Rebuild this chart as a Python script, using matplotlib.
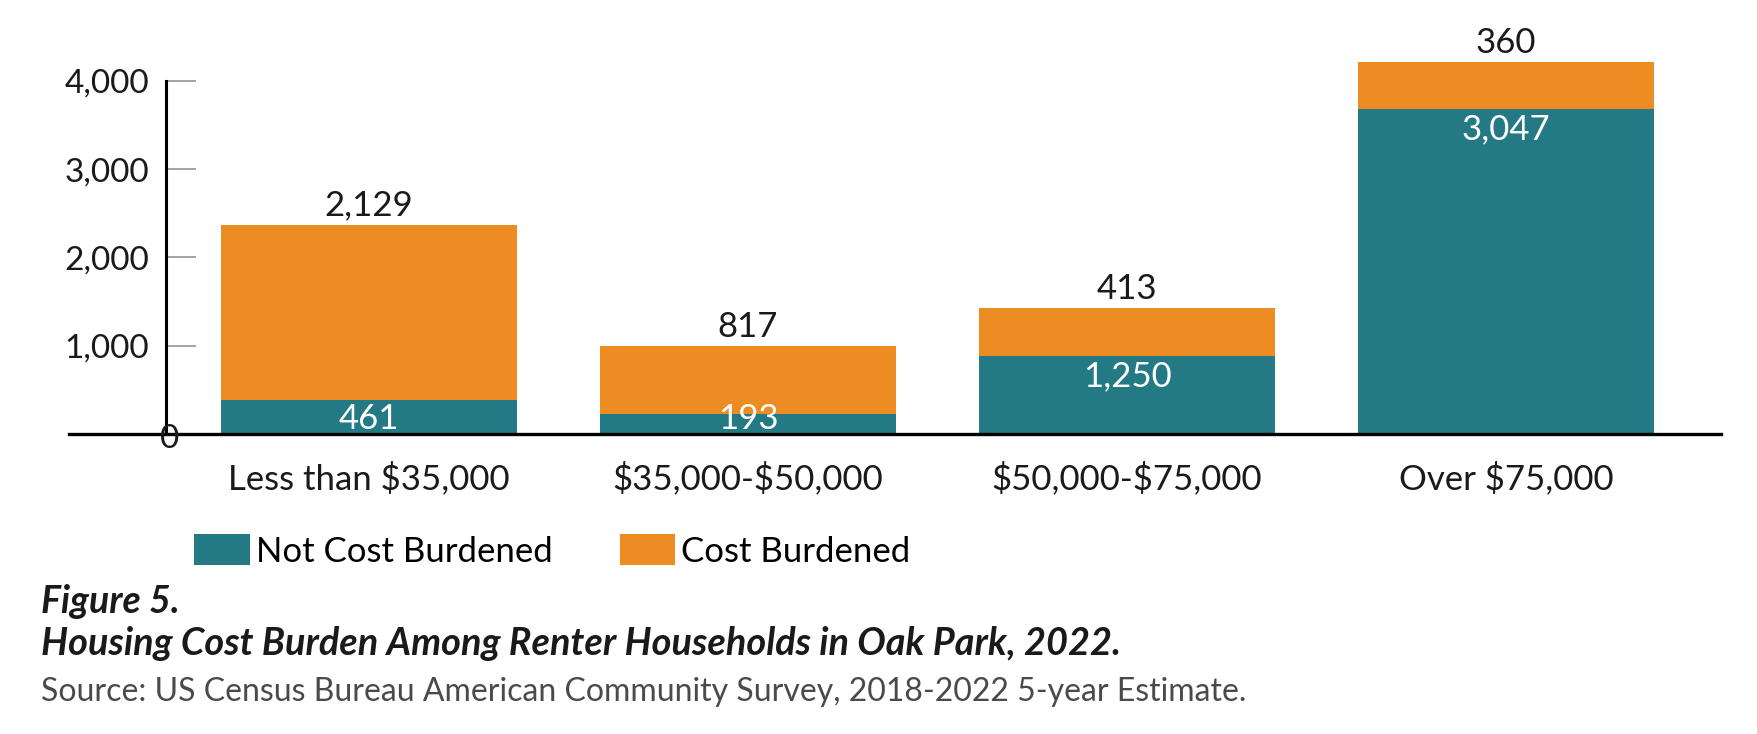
import numpy as np
import matplotlib.pyplot as plt

categories = ['Less than $35,000', '$35,000-$50,000', '$50,000-$75,000', 'Over $75,000']

# numbers printed on the bars
not_burdened_labels = [461, 193, 1250, 3047]
burdened_labels = [2129, 817, 413, 360]

# segment heights as they are drawn in the original (it is not to scale with its own labels)
not_burdened = [385, 232, 880, 3676]
burdened = [1987, 768, 543, 531]

y_ticks = [1000, 2000, 3000, 4000]

TEAL = '#237984'
ORANGE = '#ED8C22'
INK = '#1a1a1a'

plt.rcParams['font.family'] = ['Lato', 'DejaVu Sans']
plt.rcParams['text.parse_math'] = False

fig = plt.figure(figsize=(17.58, 7.34), dpi=100)
ax = fig.add_axes([0.0395, 0.4087, 0.9395, 0.5294])

x = np.arange(len(categories))
bw = 0.781
b1 = ax.bar(x, not_burdened, width=bw, color=TEAL, linewidth=0, label='Not Cost Burdened')
tops = np.array(not_burdened) + np.array(burdened)
b2 = ax.bar(x, burdened, bottom=not_burdened, width=bw, color=ORANGE, linewidth=0,
            label='Cost Burdened')

ax.set_xlim(-0.790, 3.567)
ax.set_ylim(0, 4400)

# value labels
for xi, top, v in zip(x, tops, burdened_labels):
    ax.annotate(f'{v:,}', (xi, top), xytext=(0, 6.5), textcoords='offset points',
                ha='center', va='baseline', fontsize=25, color=INK)
for xi, h, v in zip(x, not_burdened, not_burdened_labels):
    ax.text(xi, max(h - 226, 175), f'{v:,}', ha='center', va='center',
            fontsize=25, color='white')

# axes styling
spine_x = 0.0584
for s in ['top', 'right']:
    ax.spines[s].set_visible(False)
ax.spines['left'].set_position(('axes', spine_x))
ax.spines['left'].set_bounds(0, 4000)
ax.spines['left'].set_linewidth(2.2)
ax.spines['bottom'].set_linewidth(2.4)

ax.set_yticks(y_ticks, [f'{v:,}' for v in y_ticks])
ax.tick_params(axis='y', direction='in', length=21.6, width=1.1, color='#8a8a8a',
               pad=12, labelsize=24, labelcolor=INK)
ax.set_xticks(x, categories)
ax.tick_params(axis='x', length=0, pad=20, labelsize=25, labelcolor=INK)

# the lone "0" sits just under the axis corner
ax.text(spine_x + 0.0025, -62, '0', transform=ax.get_yaxis_transform(),
        ha='center', va='center', fontsize=24, color=INK)

fig.legend(handles=[b1, b2], loc='center left', bbox_to_anchor=(0.1104, 0.2493),
           ncol=2, frameon=False, fontsize=25, handlelength=1.6, handleheight=0.97,
           handletextpad=0.18, columnspacing=1.93, borderpad=0, borderaxespad=0)

fig.text(0.0233, 0.1649, 'Figure 5.', weight='bold',
         style='italic', fontsize=27, color=INK, va='baseline')
fig.text(0.0233, 0.1076, 'Housing Cost Burden Among Renter Households in Oak Park, 2022.',
         weight='bold', style='italic', fontsize=27.3, color=INK, va='baseline')
fig.text(0.0233, 0.045,
         'Source: US Census Bureau American Community Survey, 2018-2022 5-year Estimate.',
         fontsize=23, color='#4a4a4a', va='baseline')

fig.savefig('out.png', dpi=100)
